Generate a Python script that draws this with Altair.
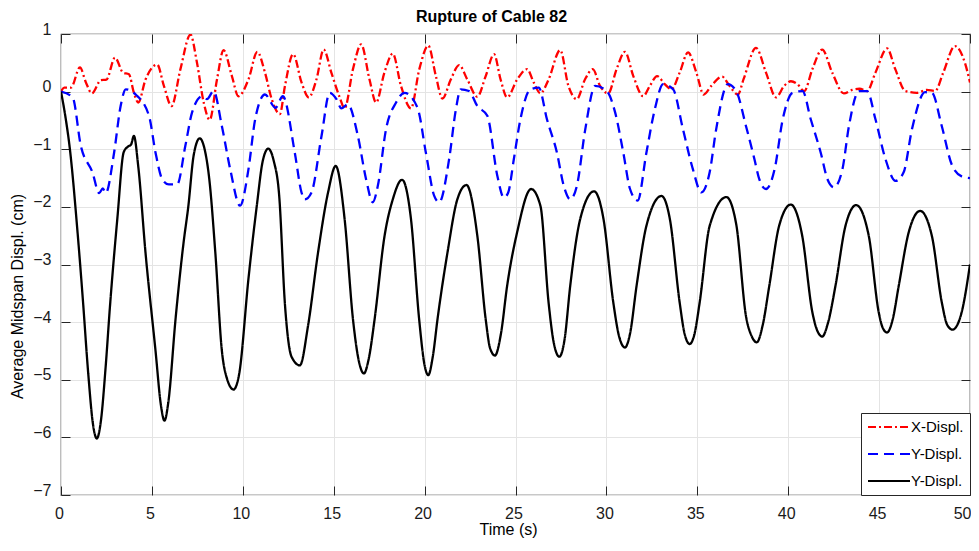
import altair as alt
import pandas as pd

# ---------------- data ----------------
series_keys = ["X-Displ.", "Y-Displ.", "Z-Displ."]
legend_labels = ["X-Displ.", "Y-Displ.", "Y-Displ."]
series_colors = ["#ff0000", "#0000ff", "#000000"]

x_t = [0, 0.18, 0.55, 1.04, 1.37, 1.7, 2.19, 2.5, 2.97, 3.41, 3.74, 4.01, 4.25, 4.65, 5.29, 5.66,
       6.08, 6.57, 7.12, 7.48, 7.85, 8.18, 8.58, 8.94, 9.4, 9.76, 10.31, 10.8, 11.22, 11.59, 12.04,
       12.32, 12.77, 13.23, 13.63, 14.05, 14.45, 14.87, 15.33, 15.6, 16.06, 16.51, 16.97, 17.33,
       17.79, 18.25, 18.7, 19.25, 19.71, 20.2, 20.62, 20.98, 21.44, 21.9, 22.35, 22.9, 23.36, 23.82,
       24.18, 24.54, 25.09, 25.64, 26.0, 26.37, 26.82, 27.46, 27.91, 28.37, 28.82, 29.25, 29.65,
       30.1, 30.56, 31.02, 31.48, 32.02, 32.39, 32.79, 33.21, 33.58, 34.03, 34.49, 34.95, 35.35,
       35.77, 36.37, 36.77, 37.23, 37.55, 38.23, 38.78, 39.33, 39.78, 40.15, 40.51, 40.88, 41.33,
       41.87, 42.42, 43.06, 43.52, 43.92, 44.34, 44.8, 45.44, 45.89, 46.44, 47.08, 47.62, 48.08,
       48.53, 49.17, 49.72, 50.0]
x_v = [0, 0.07, 0.07, 0.42, 0.16, -0.03, 0.2, 0.21, 0.59, 0.33, 0.3, -0.02, -0.19, 0.21, 0.47, 0.1,
       -0.25, 0.39, 0.99, 0.5, -0.19, -0.49, 0.21, 0.72, 0.27, -0.08, 0.21, 0.69, 0.33, -0.13, -0.39,
       0.1, 0.65, 0.16, -0.1, 0.21, 0.73, 0.33, -0.1, -0.29, 0.39, 0.82, 0.21, -0.19,
       0.33, 0.66, 0.1, -0.29, 0.39, 0.8, 0.27, -0.12, 0.21, 0.46, 0.21, -0.09, 0.27, 0.65,
       0.21, -0.1, 0.21, 0.39, 0.16, -0.03, 0.21, 0.72, 0.1, -0.13, 0.21, 0.39, 0.1,
       -0.03, 0.39, 0.69, 0.27, -0.08, 0.1, 0.27, 0.13, 0.04, 0.33, 0.68, 0.33, -0.05,
       0.1, 0.26, 0.1, -0.05, 0.22, 0.76, 0.33, -0.1, 0.1, 0.18, 0.13, 0.01, 0.39,
       0.73, 0.33, -0.03, 0.03, 0.05, 0.01, 0.33, 0.75, 0.39, 0.01, -0.02, 0.03, 0.01,
       0.33, 0.79, 0.5, 0.16]

y_t = [0, 0.64, 1.09, 1.73, 2.1, 2.3, 2.46, 2.92, 3.28, 3.56, 4.11, 4.84, 5.2, 5.57, 5.93, 6.39,
       6.84, 7.21, 7.76, 8.03, 8.39, 8.85, 9.31, 9.85, 10.31, 10.68, 11.22, 11.8, 12.2, 12.86,
       13.23, 13.41, 13.78, 14.33, 14.78, 15.15, 15.42, 15.78, 16.33, 16.78, 17.15, 17.43, 17.88,
       18.43, 18.89, 19.61, 20.07, 20.53, 20.8, 21.35, 21.72, 21.99, 22.44, 22.9, 23.45, 24.0,
       24.36, 24.6, 24.91, 25.27, 25.82, 26.28, 26.73, 27.28, 27.65, 28.01, 28.38, 28.84, 29.38,
       30.02, 30.48, 30.93, 31.3, 31.72, 32.2, 32.66, 33.12, 33.67, 34.21, 34.76, 35.22, 35.68,
       36.04, 36.68, 37.14, 37.68, 38.14, 38.41, 38.78, 39.25, 39.7, 40.24, 40.79, 41.24, 41.79,
       42.16, 42.52, 42.98, 43.34, 43.89, 44.34, 44.8, 45.35, 45.9, 46.35, 46.81, 47.53, 47.9,
       48.45, 49.0, 49.54, 50.0]
y_v = [0, -0.1, -0.94, -1.4, -1.76, -1.68, -1.76, -1.06, -0.25, 0.04, -0.05, -0.42, -1.06, -1.52, -1.61, -1.61,
       -0.94, -0.36, -0.08, -0.13, 0.01, -0.6, -1.35, -1.98, -1.35, -0.48, -0.05, -0.28, -0.08, -1.06,
       -1.75, -1.87, -1.75, -0.77, -0.02, -0.13, -0.29, -0.22, -0.77, -1.52, -1.92, -1.63, -0.65,
       -0.19, -0.02, -0.28, -1.06, -1.81, -1.92, -1.17, -0.31, 0.04, 0.01, -0.25, -0.42, -1.46,
       -1.84, -1.75, -1.17, -0.48, 0.04, 0.07, -0.48, -1.06, -1.63, -1.87, -1.63, -0.65, 0.1,
       0.01, -0.36, -1.06, -1.69, -1.89, -1.06, -0.31, 0.13, 0.04, -0.65, -1.35, -1.75, -1.4,
       -0.65, 0.13, 0.01, -0.6, -1.17, -1.52, -1.69, -1.35, -0.48, -0.02, 0.01, -0.48, -1.06,
       -1.52, -1.66, -1.35, -0.6, 0.01, 0.01, -0.48, -1.17, -1.55, -1.4, -0.65, -0.01, -0.02,
       -0.6, -1.27, -1.47, -1.5]

z_t = [0, 0.25, 0.49, 0.91, 1.2, 1.5, 1.75, 1.97, 2.2, 2.45, 2.7, 3.1, 3.45, 3.7, 3.85, 4.01, 4.25,
       4.65, 5.2, 5.5, 5.69, 5.9, 6.3, 6.75, 7.0, 7.3, 7.63, 7.9, 8.15, 8.49, 8.85, 9.1, 9.49, 9.8,
       10.31, 10.77, 11.1, 11.4, 11.7, 12.0, 12.32, 12.68, 13.14, 13.59, 14.14, 14.69, 15.11, 15.6,
       16.06, 16.4, 16.66, 16.95, 17.25, 17.8, 18.25, 18.76, 19.25, 19.7, 20.0, 20.2, 20.45, 20.71,
       21.26, 21.8, 22.3, 22.9, 23.36, 23.6, 23.87, 24.2, 24.54, 25.09, 25.86, 26.37, 26.82, 27.1,
       27.41, 27.7, 28.01, 28.56, 29.32, 29.84, 30.38, 30.7, 31.02, 31.3, 31.66, 32.2, 33.03, 33.49,
       34.03, 34.3, 34.58, 34.85, 35.13, 35.68, 36.6, 37.14, 37.68, 38.0, 38.27, 38.6, 38.96, 39.5,
       40.14, 40.77, 41.33, 41.6, 41.87, 42.2, 42.6, 43.15, 43.74, 44.43, 44.98, 45.2, 45.44, 45.75,
       46.08, 46.63, 47.26, 47.9, 48.45, 48.75, 49.04, 49.3, 49.54, 50.0]
z_v = [0, -0.45, -1.0, -2.44, -3.6, -4.9, -5.75, -6.02, -5.7, -4.8, -3.7, -2.2, -1.05, -0.95, -0.92, -0.77, -1.3,
       -2.8, -4.5, -5.45, -5.71, -5.4, -3.95, -2.6, -2.0, -1.1, -0.81, -1.0, -1.5, -2.8, -4.5, -4.95, -5.17, -4.9,
       -3.25, -1.98, -1.2, -0.99, -1.2, -1.8, -3.7, -4.6, -4.75, -4.06, -2.79, -1.75, -1.29, -2.21,
       -3.95, -4.7, -4.89, -4.6, -3.95, -2.5, -1.87, -1.53, -2.21, -3.95, -4.75, -4.92, -4.6, -3.95,
       -2.79, -1.87, -1.62, -2.5, -3.95, -4.45, -4.58, -4.2, -3.37, -2.44, -1.69, -1.98, -3.66, -4.35,
       -4.6, -4.3, -3.37, -2.21, -1.73, -2.21, -3.66, -4.25, -4.44, -4.2, -3.37, -2.33, -1.81, -2.21,
       -3.66, -4.2, -4.38, -4.2, -3.66, -2.33, -1.83, -2.3, -3.9, -4.25, -4.35, -4.05, -3.37, -2.33,
       -1.96, -2.5, -3.83, -4.15, -4.25, -4.0, -3.37, -2.33, -1.97, -2.5, -3.83, -4.1, -4.18, -3.95,
       -3.37, -2.44, -2.07, -2.5, -3.66, -4.05, -4.13, -4.05, -3.83, -3.0]

x_ticks = [0, 5, 10, 15, 20, 25, 30, 35, 40, 45, 50]
y_ticks = [1, 0, -1, -2, -3, -4, -5, -6, -7]

# ---------------- table ----------------
frames = []
for key, ts, vs in zip(series_keys, [x_t, y_t, z_t], [x_v, y_v, z_v]):
    frames.append(pd.DataFrame({"t": ts, "v": vs, "s": key}))
df = pd.concat(frames, ignore_index=True)

FONT = "Liberation Sans"
TICK = "#262626"
GRID = "#e4e4e4"

label_expr = " : ".join(
    [f"datum.label == '{k}' ? '{l}'" for k, l in zip(series_keys, legend_labels)] + ["datum.label"]
)
last_x = x_ticks[-1]

xscale = alt.Scale(domain=[0, 50], nice=False, zero=False)
yscale = alt.Scale(domain=[-7, 1], nice=False, zero=False)

legend = alt.Legend(
    title=None, orient="bottom-right", offset=0, labelExpr=label_expr,
    symbolType="M-3,0H3", symbolSize=196, symbolStrokeWidth=2, symbolOffset=14,
    labelFont=FONT, labelFontSize=15, labelColor="#000000", labelOffset=14,
    padding=6, rowPadding=11, fillColor="#ffffff", strokeColor=TICK,
)

lines = alt.Chart(df).mark_line(strokeWidth=2.3, interpolate="monotone", clip=True).encode(
    x=alt.X("t:Q", scale=xscale, axis=alt.Axis(
        orient="bottom", values=x_ticks, title="Time (s)", grid=True, gridColor=GRID,
        domain=False, ticks=True, tickSize=9, offset=-9, tickColor=TICK, labelFlush=False,
        labelAlign={"condition": {"test": f"datum.value == {last_x}", "value": "right"}, "value": "center"},
        labelOffset={"condition": {"test": f"datum.value == {last_x}", "value": 1}, "value": -2},
        labelPadding=10, labelFont=FONT, labelFontSize=16, labelColor="#1a1a1a",
        titleFont=FONT, titleFontSize=16, titleFontWeight="normal", titleColor="#000000",
        titleX=447, titleY=48, titleBaseline="alphabetic", titleAlign="center", titleAnchor="middle",
    )),
    y=alt.Y("v:Q", scale=yscale, axis=alt.Axis(
        orient="left", values=y_ticks, title="Average Midspan Displ. (cm)", grid=True, gridColor=GRID,
        domain=False, ticks=True, tickSize=9, offset=-9, tickColor=TICK, labelFlush=False,
        labelPadding=10, labelFont=FONT, labelFontSize=16, labelColor="#1a1a1a", labelOffset=-5,
        titleFont=FONT, titleFontSize=16, titleFontWeight="normal", titleColor="#000000",
        titlePadding=7, titleY=262, titleAnchor="middle",
    )),
    color=alt.Color("s:N", scale=alt.Scale(domain=series_keys, range=series_colors), legend=legend),
    strokeDash=alt.StrokeDash("s:N", scale=alt.Scale(domain=series_keys,
                                                     range=[[8, 3, 2, 3], [10, 6], [1, 0]]),
                              legend=legend),
    order=alt.Order("t:Q"),
)

frame_ticks = alt.Chart(df).mark_point(opacity=0, size=1).encode(
    x=alt.X("t:Q", scale=xscale, axis=alt.Axis(
        orient="top", values=x_ticks, title=None, grid=False, domain=False, labels=False,
        ticks=True, tickSize=9, offset=-9, tickColor=TICK)),
    y=alt.Y("v:Q", scale=yscale, axis=alt.Axis(
        orient="right", values=y_ticks, title=None, grid=False, domain=False, labels=False,
        ticks=True, tickSize=9, offset=-9, tickColor=TICK)),
)

chart = alt.layer(lines, frame_ticks).resolve_axis(x="independent", y="independent").properties(
    width=909, height=461,
    autosize=alt.AutoSizeParams(type="none"),
    padding={"left": 53, "top": 26, "right": 1, "bottom": 43},
    background="#ffffff",
    title=alt.TitleParams("Rupture of Cable 82", font=FONT, fontSize=16, fontWeight="bold",
                          color="#000000", offset=1, baseline="alphabetic", frame="group",
                          anchor="middle", dx=-24, dy=18),
).configure_view(stroke=TICK, strokeWidth=1.2)

chart.save("out.html", embed_options={"renderer": "svg", "actions": False})
